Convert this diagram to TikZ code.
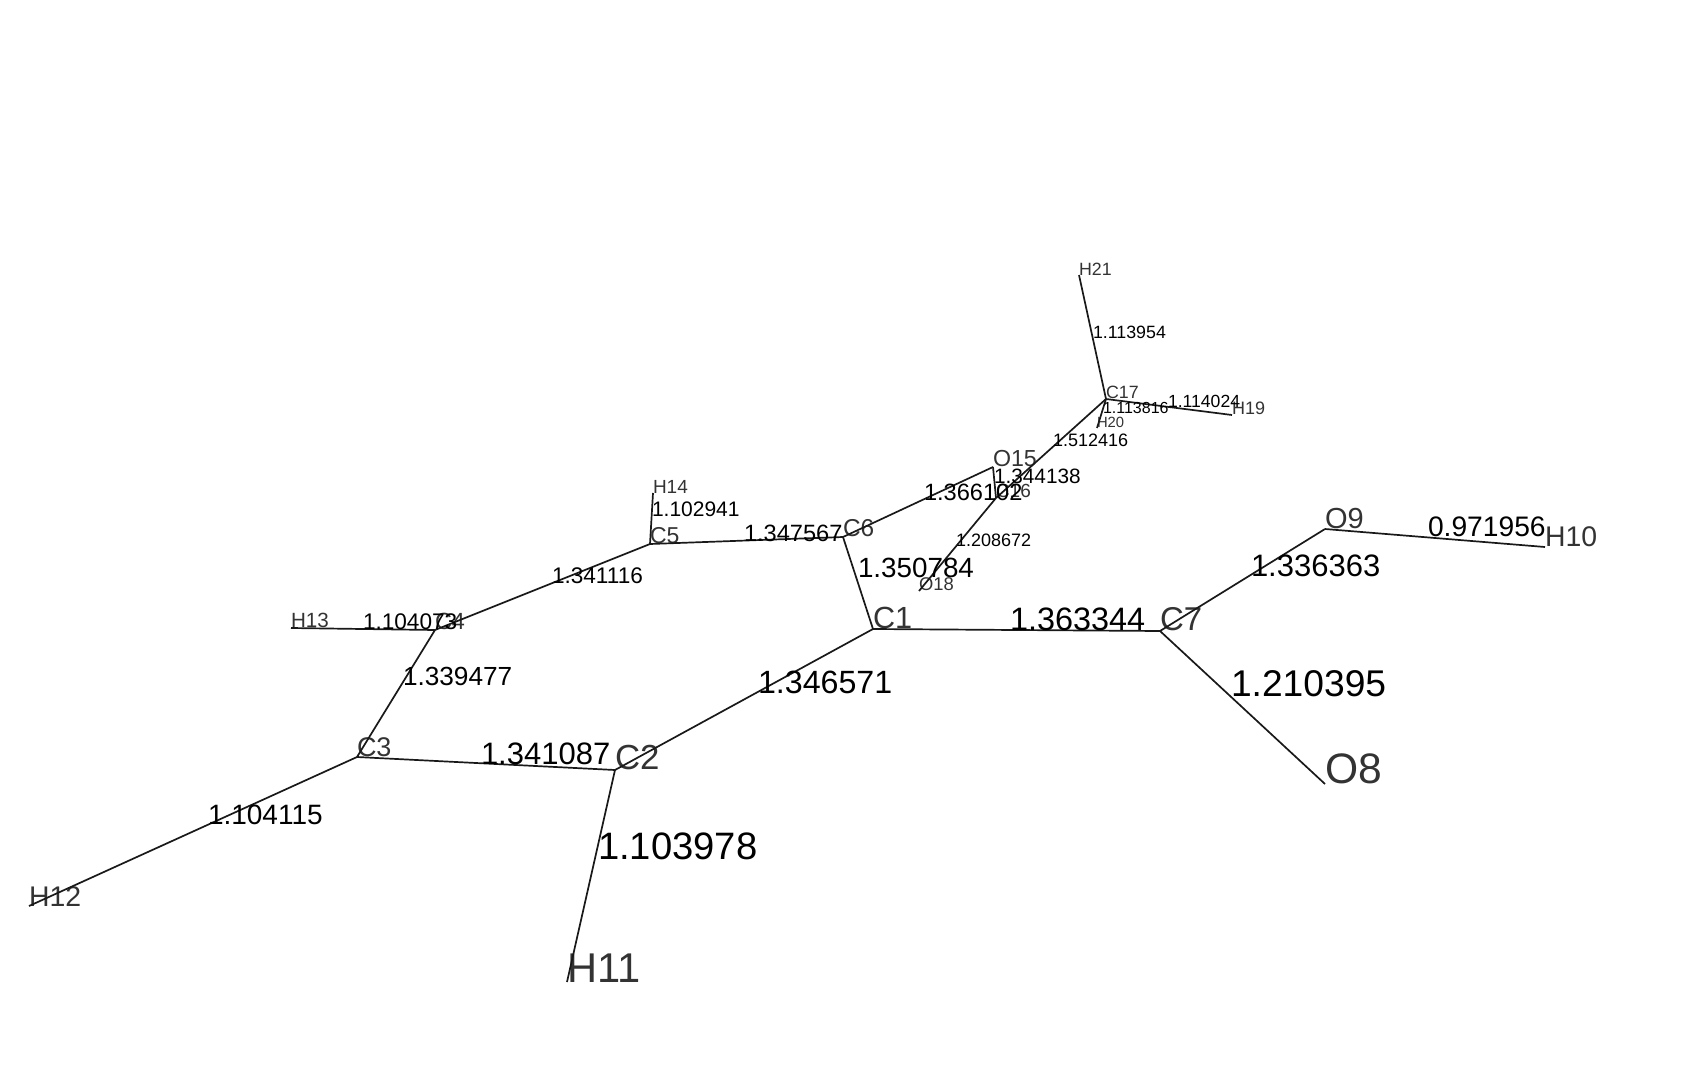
\documentclass[tikz,border=0pt]{standalone}
\usepackage{fontspec}
\setmainfont{Liberation Sans}
\definecolor{atomgray}{HTML}{333333}
\tikzset{
  atom/.style={anchor=south west, inner sep=0pt, outer sep=0pt, text=atomgray,
               font=\fontsize{#1}{#1}\selectfont},
  len/.style={anchor=west, inner sep=0pt, outer sep=0pt, text=black,
              font=\fontsize{#1}{#1}\selectfont},
  bond/.style={line width=0.85pt, draw=black!90},
}
\begin{document}
\begin{tikzpicture}[x=0.5pt, y=-0.5pt]
    \useasboundingbox (0,0) rectangle (1698,1081);
    % atoms
    \node[atom=15.3] (C1) at (873,629) {C1};
    \node[atom=17.4] (C2) at (615,770) {C2};
    \node[atom=13.5] (C3) at (357,757) {C3};
    \node[atom=11.7] (C4) at (435,630) {C4};
    \node[atom=11.5] (C5) at (650,544) {C5};
    \node[atom=12.2] (C6) at (843,537) {C6};
    \node[atom=16.5] (C7) at (1160,631) {C7};
    \node[atom=21.3] (O8) at (1325,784) {O8};
    \node[atom=14.5] (O9) at (1325,529) {O9};
    \node[atom=14.2] (H10) at (1545,547) {H10};
    \node[atom=20.8] (H11) at (567,982) {H11};
    \node[atom=14.2] (H12) at (29,906) {H12};
    \node[atom=10.3] (H13) at (291,628) {H13};
    \node[atom=9.5] (H14) at (653,493) {H14};
    \node[atom=11.6] (O15) at (993,467) {O15};
    \node[atom=9.5] (C16) at (996,498) {C16};
    \node[atom=8.9] (C17) at (1106,399) {C17};
    \node[atom=9.2] (O18) at (919,591) {O18};
    \node[atom=9] (H19) at (1232,415) {H19};
    \node[atom=7.4] (H20) at (1097,428) {H20};
    \node[atom=8.9] (H21) at (1079,275) {H21};
    % bonds
    \draw[bond] (C1.south west) -- (C2.south west);
    \draw[bond] (C2.south west) -- (C3.south west);
    \draw[bond] (C3.south west) -- (C4.south west);
    \draw[bond] (C4.south west) -- (C5.south west);
    \draw[bond] (C5.south west) -- (C6.south west);
    \draw[bond] (C6.south west) -- (C1.south west);
    \draw[bond] (C1.south west) -- (C7.south west);
    \draw[bond] (C7.south west) -- (O8.south west);
    \draw[bond] (C7.south west) -- (O9.south west);
    \draw[bond] (O9.south west) -- (H10.south west);
    \draw[bond] (C2.south west) -- (H11.south west);
    \draw[bond] (C3.south west) -- (H12.south west);
    \draw[bond] (C4.south west) -- (H13.south west);
    \draw[bond] (C5.south west) -- (H14.south west);
    \draw[bond] (C6.south west) -- (O15.south west);
    \draw[bond] (O15.south west) -- (C16.south west);
    \draw[bond] (C16.south west) -- (C17.south west);
    \draw[bond] (C16.south west) -- (O18.south west);
    \draw[bond] (C17.south west) -- (H19.south west);
    \draw[bond] (C17.south west) -- (H20.south west);
    \draw[bond] (C17.south west) -- (H21.south west);
    % bond lengths
    \node[len=16.2] (l17) at (1010,619.5) {1.363344};
    \node[len=18.6] (l78) at (1231,683.5) {1.210395};
    \node[len=19.1] (l211) at (598,846) {1.103978};
    \node[len=16.1] (l12) at (758,682) {1.346571};
    \node[len=15.5] (l23) at (481,753.5) {1.341087};
    \node[len=13.9] (l61) at (858,568) {1.350784};
    \node[len=15.5] (l79) at (1251,566) {1.336363};
    \node[len=14.1] (l910) at (1428,527) {0.971956};
    \node[len=14] (l312) at (208,815) {1.104115};
    \node[len=13.1] (l34) at (403,676) {1.339477};
    \node[len=11.3] (l413) at (363,621.5) {1.104073};
    \node[len=11.3] (l45) at (552,576) {1.341116};
    \node[len=11.8] (l56) at (744,533) {1.347567};
    \node[len=10.5] (l514) at (652,509.5) {1.102941};
    \node[len=11.8] (l615) at (924,492) {1.366102};
    \node[len=10.4] (l1516) at (994,476) {1.344138};
    \node[len=9] (l1617) at (1053,440) {1.512416};
    \node[len=9] (l1618) at (956,540) {1.208672};
    \node[len=8.9] (l1721) at (1093,332.5) {1.113954};
    \node[len=8.8] (l1719) at (1168,401) {1.114024};
    \node[len=8] (l1720) at (1103,408) {1.113816};
\end{tikzpicture}
\end{document}
